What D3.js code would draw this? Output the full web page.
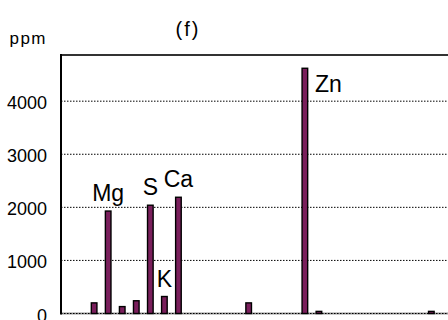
<!DOCTYPE html>
<html>
<head>
<meta charset="utf-8">
<script src="https://cdn.jsdelivr.net/npm/d3@7"></script>
<style>
    body { margin: 0; background: #fff; }
    text { font-family: "Liberation Sans", Arial, sans-serif; fill: #000; }
</style>
</head>
<body>
<div id="chart"></div>
<script>
// element categories along the x axis (no tick labels in the original)
const elements = ["Li", "B", "Na", "Mg", "Al", "P", "S", "K", "Ca", "Ti", "V", "Cr", "Mn", "Fe",
    "Co", "Ni", "Cu", "Zn", "As", "Se", "Rb", "Sr", "Mo", "Cd", "Sn", "Ba", "Pb", "Hg"];
// concentration in ppm, null = not shown
const ppm = [null, null, 200, 1930, 130, 240, 2040, 320, 2190, null, null, null, null, 200,
    null, null, null, 4620, 40, null, null, null, null, null, null, null, 40, null];
// elements that get a text label
const labelled = ["Mg", "S", "K", "Ca", "Zn"];
const yTicks = [0, 1000, 2000, 3000, 4000];

const W = 448, H = 320;
const margin = {top: 55, left: 61, bottom: 6.5};
const step = 14.05;

const svg = d3.select("#chart").append("svg")
    .attr("width", W)
    .attr("height", H);

const data = elements.map((e, i) => ({name: e, value: ppm[i]}));

const x = d3.scaleBand()
    .domain(elements)
    .range([59, 59 + elements.length * step]);

const y = d3.scaleLinear()
    .domain([0, 4870])
    .range([H - margin.bottom, margin.top]);

// dotted grid lines
svg.selectAll("line.grid")
    .data(yTicks)
    .enter()
    .append("line")
    .attr("class", "grid")
    .attr("x1", margin.left)
    .attr("x2", W)
    .attr("y1", d => y(d))
    .attr("y2", d => y(d))
    .attr("stroke", d => d === 0 ? "#999" : "#000")
    .attr("stroke-width", d => d === 0 ? 2 : 1)
    .attr("stroke-dasharray", d => d === 0 ? null : "1.5,1.5");

svg.append("line")
    .attr("x1", margin.left).attr("x2", W)
    .attr("y1", y(0)).attr("y2", y(0))
    .attr("stroke", "#000")
    .attr("stroke-width", 1)
    .attr("stroke-dasharray", "1.5,1.5");

// top frame line
svg.append("line")
    .attr("x1", margin.left - 1).attr("x2", W)
    .attr("y1", margin.top).attr("y2", margin.top)
    .attr("stroke", "#333")
    .attr("stroke-width", 2);

// y axis labels
const yAxis = d3.axisLeft(y)
    .tickValues(yTicks)
    .tickSize(0)
    .tickPadding(14)
    .tickFormat(d3.format("d"));

const yG = svg.append("g")
    .attr("transform", "translate(" + margin.left + ",0)")
    .call(yAxis)
    .attr("font-size", 18)
    .attr("font-family", "Liberation Sans, Arial, sans-serif");
yG.select(".domain").remove();
yG.selectAll("text")
    .attr("dy", "0.42em");

svg.append("line")
    .attr("x1", margin.left).attr("x2", margin.left)
    .attr("y1", margin.top - 1).attr("y2", y(0) + 1)
    .attr("stroke", "#000")
    .attr("stroke-width", 2);

// bars
const shown = data.filter(d => d.value !== null);
const bw = 5.6;

svg.selectAll("rect.bar")
    .data(shown)
    .enter()
    .append("rect")
    .attr("class", "bar")
    .attr("x", d => x(d.name) + x.bandwidth() / 2 - bw / 2)
    .attr("y", d => y(d.value))
    .attr("width", bw)
    .attr("height", d => y(0) - y(d.value))
    .attr("fill", "#7a1f5c")
    .attr("stroke", "#000")
    .attr("stroke-width", 1.4);

// element labels: above the bar, or to its right when there is no room
svg.selectAll("text.lab")
    .data(shown.filter(d => labelled.includes(d.name)))
    .enter()
    .append("text")
    .attr("class", "lab")
    .attr("font-size", 23)
    .each(function (d) {
        const top = y(d.value);
        const cx = x(d.name) + x.bandwidth() / 2;
        const t = d3.select(this).text(d.name);
        if (top - 30 < margin.top) {
            t.attr("x", cx + 10).attr("y", top + 24).attr("text-anchor", "start");
        } else {
            t.attr("x", cx).attr("y", top - 10).attr("text-anchor", "middle");
        }
    });

// unit and panel title
svg.append("text")
    .attr("x", 47)
    .attr("y", 44)
    .attr("text-anchor", "end")
    .attr("font-size", 17)
    .attr("letter-spacing", 1.5)
    .text("ppm");

svg.append("text")
    .attr("x", 188)
    .attr("y", 36)
    .attr("text-anchor", "middle")
    .attr("font-size", 20)
    .attr("letter-spacing", 2)
    .text("(f)");
</script>
</body>
</html>
